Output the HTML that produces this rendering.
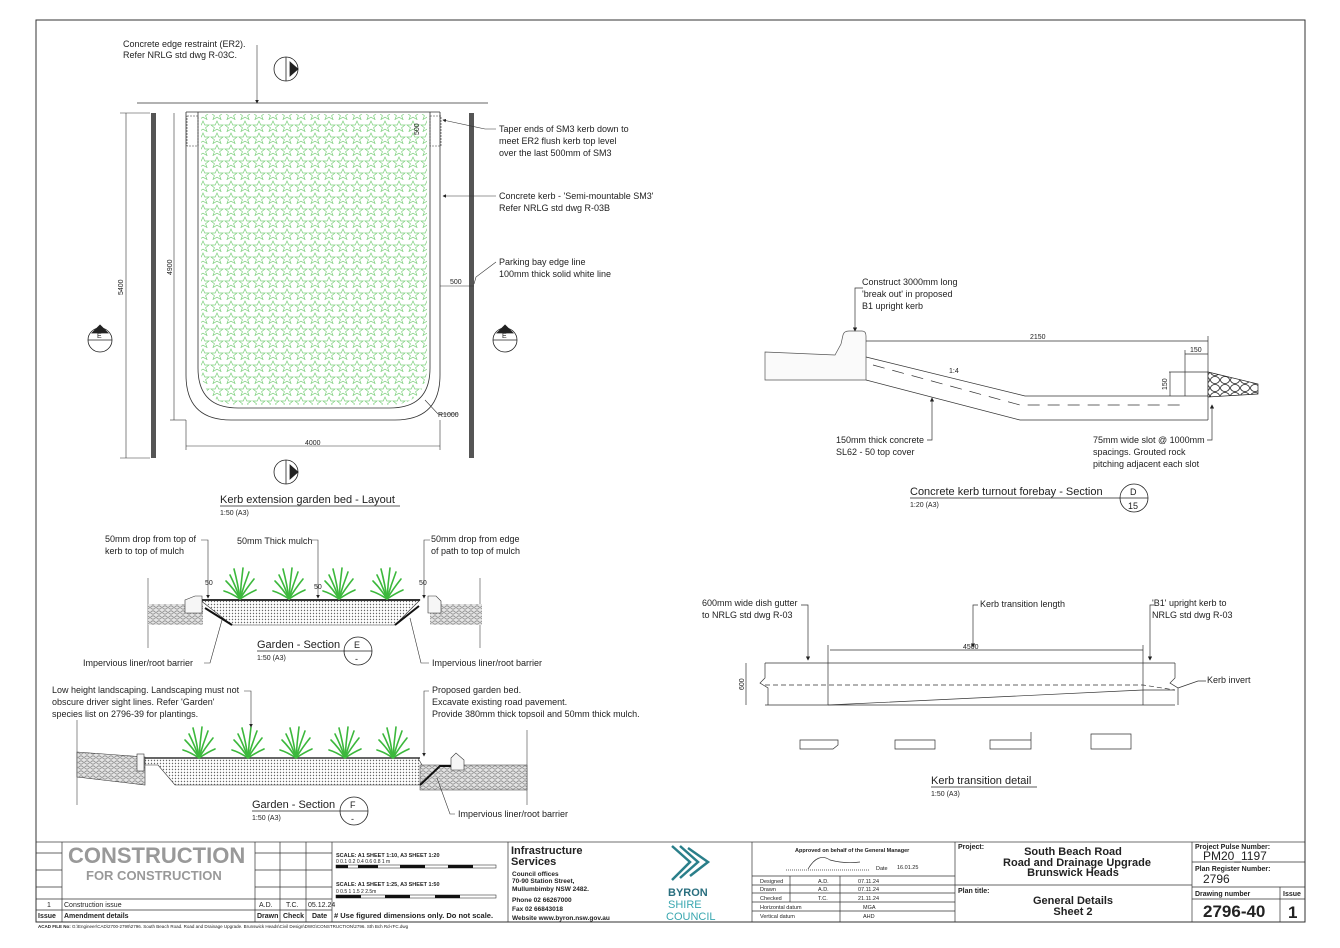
<!DOCTYPE html>
<html><head><meta charset="utf-8"><style>
html,body{margin:0;padding:0;background:#fff}
svg{display:block}
text{font-family:"Liberation Sans",sans-serif;fill:#222}
.t{font-size:9px}
.s{font-size:7px}
.b{font-weight:bold}
</style></head><body>
<svg width="1340" height="948" viewBox="0 0 1340 948" xmlns="http://www.w3.org/2000/svg">
<defs>
<pattern id="star" width="14" height="12" patternUnits="userSpaceOnUse">
<path d="M7 1 L8.8 5 L13 5 L9.6 7.7 L11 11.5 L7 9.2 L3 11.5 L4.4 7.7 L1 5 L5.2 5Z" fill="none" stroke="#7ccf7c" stroke-width="0.7"/>
</pattern>
<pattern id="dots" width="3" height="3" patternUnits="userSpaceOnUse"><rect width="3" height="3" fill="#fff"/><circle cx="1.5" cy="1.5" r="0.7" fill="#666"/></pattern>
<pattern id="pave" width="6" height="5" patternUnits="userSpaceOnUse"><rect width="6" height="5" fill="#e4e4e4"/><ellipse cx="3" cy="2.5" rx="2.3" ry="1.6" fill="none" stroke="#777" stroke-width="0.7"/></pattern>
<pattern id="rock" width="10" height="8" patternUnits="userSpaceOnUse"><rect width="10" height="8" fill="#fff"/><ellipse cx="5" cy="4" rx="4.5" ry="3.5" fill="none" stroke="#222" stroke-width="0.8"/></pattern>
<symbol id="grass" viewBox="-16 -32 32 32" overflow="visible">
<g stroke="#3cb83c" stroke-width="1.6" fill="none" stroke-linecap="round">
<path d="M0 0 Q-2 -15 -6 -30"/><path d="M0 0 Q1 -16 3 -31"/><path d="M0 0 Q-6 -10 -14 -18"/><path d="M0 0 Q6 -10 14 -20"/><path d="M0 0 Q-9 -6 -16 -8"/><path d="M0 0 Q9 -6 16 -9"/><path d="M0 0 Q4 -14 9 -27"/><path d="M0 0 Q-4 -12 -10 -24"/>
</g></symbol>
<marker id="ar" markerWidth="6" markerHeight="6" refX="5" refY="3" orient="auto"><path d="M0 0 L6 3 L0 6Z" fill="#222"/></marker>
</defs>

<rect x="36" y="20" width="1269" height="902" fill="none" stroke="#333" stroke-width="1"/>

<!-- ===== Layout plan ===== -->
<g stroke="#333" fill="none" stroke-width="0.8">
<line x1="137" y1="103" x2="488" y2="103"/>
<line x1="186" y1="112" x2="440" y2="112"/>
<path d="M186 112 V375 Q186 420 231 420 H395 Q440 420 440 375 V112"/>
<path d="M198 112 V368 Q198 408 238 408 H390 Q430 408 430 368 V112"/>
</g>
<path d="M201 114 V366 Q201 405 240 405 H388 Q427 405 427 366 V114Z" fill="url(#star)"/>
<rect x="151" y="113" width="5" height="345" fill="#555"/>
<rect x="469" y="113" width="5" height="345" fill="#555"/>
<g stroke="#333" stroke-width="0.6" fill="none">
<line x1="126" y1="113" x2="126" y2="458"/><line x1="120" y1="113" x2="150" y2="113"/><line x1="120" y1="458" x2="150" y2="458"/>
<line x1="174" y1="113" x2="174" y2="420"/><line x1="170" y1="420" x2="186" y2="420"/>
<line x1="186" y1="446" x2="440" y2="446"/><line x1="186" y1="420" x2="186" y2="450"/><line x1="440" y1="420" x2="440" y2="450"/>
<line x1="440" y1="286" x2="474" y2="286"/>
<line x1="257" y1="45" x2="257" y2="103" marker-end="url(#ar)"/>
<path d="M496 129 H485 V129 L443 120" marker-end="url(#ar)"/>
<path d="M496 196 H443" marker-end="url(#ar)"/>
<path d="M496 262 L476 277 L474 284"/>
<path d="M458 414 H438 L425 400"/>
<rect x="187" y="116" width="11" height="30" stroke-dasharray="2 1"/>
<rect x="430" y="116" width="11" height="30" stroke-dasharray="2 1"/>
</g>
<text class="t" x="123" y="47">Concrete edge restraint (ER2).</text>
<text class="t" x="123" y="58">Refer NRLG std dwg R-03C.</text>
<text class="t" x="499" y="132">Taper ends of SM3 kerb down to</text>
<text class="t" x="499" y="144">meet ER2 flush kerb top level</text>
<text class="t" x="499" y="156">over the last 500mm of SM3</text>
<text class="t" x="499" y="199">Concrete kerb - 'Semi-mountable SM3'</text>
<text class="t" x="499" y="211">Refer NRLG std dwg R-03B</text>
<text class="t" x="499" y="265">Parking bay edge line</text>
<text class="t" x="499" y="277">100mm thick solid white line</text>
<text class="s" x="450" y="284">500</text>
<text class="s" x="438" y="417">R1000</text>
<text class="s" x="305" y="445">4000</text>
<text class="s" transform="translate(123 295) rotate(-90)">5400</text>
<text class="s" transform="translate(172 275) rotate(-90)">4900</text>
<text class="s" transform="translate(419 135) rotate(-90)">500</text>
<g stroke="#222" fill="none" stroke-width="0.8">
<circle cx="286" cy="69" r="12"/><line x1="286" y1="57" x2="286" y2="81"/><path d="M298 69 L290 62 V76Z" fill="#222"/>
<circle cx="286" cy="472" r="12"/><line x1="286" y1="460" x2="286" y2="484"/><path d="M298 472 L290 465 V479Z" fill="#222"/>
<circle cx="100" cy="340" r="12"/><line x1="88" y1="340" x2="112" y2="340"/><path d="M100 325 L92 333 H108Z" fill="#222"/>
<circle cx="505" cy="340" r="12"/><line x1="493" y1="340" x2="517" y2="340"/><path d="M505 325 L497 333 H513Z" fill="#222"/>
</g>
<text class="s" x="97" y="338">E</text><text class="s" x="502" y="338">E</text>
<text x="220" y="503" style="font-size:11px">Kerb extension garden bed - Layout</text>
<line x1="220" y1="506" x2="400" y2="506" stroke="#222" stroke-width="0.7"/>
<text class="s" x="220" y="515">1:50 (A3)</text>

<!-- ===== Section E ===== -->
<line x1="148" y1="578" x2="148" y2="648" stroke="#444" stroke-width="0.6"/>
<line x1="480" y1="578" x2="480" y2="648" stroke="#444" stroke-width="0.6"/>
<rect x="148" y="604" width="55" height="21" fill="url(#pave)"/>
<rect x="430" y="604" width="52" height="21" fill="url(#pave)"/>
<path d="M200 600 H420 L395 625 H232Z" fill="url(#dots)" stroke="#333" stroke-width="0.6"/>
<line x1="200" y1="600" x2="420" y2="600" stroke="#333" stroke-width="2"/>
<path d="M205 608 L232 625 M419 606 L395 625" stroke="#111" stroke-width="2"/>
<path d="M185 600 L195 596 H202 V613 H185Z" fill="#f6f6f6" stroke="#333" stroke-width="0.6"/>
<path d="M428 596 H436 L441 601 V613 H428Z" fill="#f6f6f6" stroke="#333" stroke-width="0.6"/>
<use href="#grass" x="224" y="567" width="32" height="32"/>
<use href="#grass" x="273" y="567" width="32" height="32"/>
<use href="#grass" x="323" y="567" width="32" height="32"/>
<use href="#grass" x="371" y="567" width="32" height="32"/>
<g stroke="#333" stroke-width="0.6" fill="none">
<path d="M201 540 H208 V598" marker-end="url(#ar)"/>
<path d="M312 540 H318 V598" marker-end="url(#ar)"/>
<path d="M430 540 H424 V598" marker-end="url(#ar)"/>
<path d="M204 663 H210 L222 620"/>
<path d="M429 663 L421 663 L410 618"/>
</g>
<text class="t" x="105" y="542">50mm drop from top of</text>
<text class="t" x="105" y="554">kerb to top of mulch</text>
<text class="t" x="237" y="544">50mm Thick mulch</text>
<text class="t" x="431" y="542">50mm drop from edge</text>
<text class="t" x="431" y="554">of path to top of mulch</text>
<text class="s" x="205" y="585">50</text><text class="s" x="314" y="589">50</text><text class="s" x="419" y="585">50</text>
<text class="t" x="83" y="666">Impervious liner/root barrier</text>
<text class="t" x="432" y="666">Impervious liner/root barrier</text>
<text x="257" y="648" style="font-size:11px">Garden - Section</text>
<line x1="257" y1="651" x2="345" y2="651" stroke="#222" stroke-width="0.7"/>
<text class="s" x="257" y="660">1:50 (A3)</text>
<circle cx="358" cy="651" r="14" fill="none" stroke="#222" stroke-width="0.8"/><line x1="344" y1="651" x2="372" y2="651" stroke="#222" stroke-width="0.7"/>
<text class="t" x="354" y="648">E</text><text class="t" x="355" y="662">-</text>

<!-- ===== Section F ===== -->
<line x1="77" y1="720" x2="77" y2="805" stroke="#444" stroke-width="0.6"/>
<line x1="527" y1="730" x2="527" y2="805" stroke="#444" stroke-width="0.6"/>
<path d="M77 752 L145 757 V785 L77 777Z" fill="url(#pave)" stroke="#333" stroke-width="0.6"/>
<path d="M145 758 H418 L422 765 V785 H175 L158 765 H145Z" fill="url(#dots)" stroke="#333" stroke-width="0.6"/>
<line x1="145" y1="758" x2="420" y2="758" stroke="#333" stroke-width="1.5"/>
<rect x="420" y="765" width="107" height="25" fill="url(#pave)" stroke="#333" stroke-width="0.5"/>
<path d="M420 785 L440 766 H452" stroke="#111" stroke-width="2" fill="none"/>
<rect x="137" y="754" width="7" height="17" fill="#f6f6f6" stroke="#333" stroke-width="0.6"/>
<path d="M451 758 L456 753 L464 760 V770 H451Z" fill="#f6f6f6" stroke="#333" stroke-width="0.6"/>
<use href="#grass" x="183" y="726" width="32" height="32"/>
<use href="#grass" x="232" y="726" width="32" height="32"/>
<use href="#grass" x="280" y="726" width="32" height="32"/>
<use href="#grass" x="329" y="726" width="32" height="32"/>
<use href="#grass" x="377" y="726" width="32" height="32"/>
<g stroke="#333" stroke-width="0.6" fill="none">
<path d="M244 691 H251 V727" marker-end="url(#ar)"/>
<path d="M429 691 H424 V756" marker-end="url(#ar)"/>
<path d="M455 814 H450 L437 778"/>
</g>
<text class="t" x="52" y="693">Low height landscaping. Landscaping must not</text>
<text class="t" x="52" y="705">obscure driver sight lines. Refer 'Garden'</text>
<text class="t" x="52" y="717">species list on 2796-39 for plantings.</text>
<text class="t" x="432" y="693">Proposed garden bed.</text>
<text class="t" x="432" y="705">Excavate existing road pavement.</text>
<text class="t" x="432" y="717">Provide 380mm thick topsoil and 50mm thick mulch.</text>
<text class="t" x="458" y="817">Impervious liner/root barrier</text>
<text x="252" y="808" style="font-size:11px">Garden - Section</text>
<line x1="252" y1="811" x2="340" y2="811" stroke="#222" stroke-width="0.7"/>
<text class="s" x="252" y="820">1:50 (A3)</text>
<circle cx="354" cy="811" r="14" fill="none" stroke="#222" stroke-width="0.8"/><line x1="340" y1="811" x2="368" y2="811" stroke="#222" stroke-width="0.7"/>
<text class="t" x="350" y="808">F</text><text class="t" x="351" y="822">-</text>

<!-- ===== Forebay section D ===== -->
<path d="M765 352 L835 355 L841 344 L843 335 Q844 331 849 331 H862 Q866 331 866 336 V380 H765Z" fill="#fafafa" stroke="#555" stroke-width="0.7"/>
<g stroke="#333" stroke-width="0.7" fill="none">
<path d="M866 357 L1025 396 H1208"/>
<path d="M866 380 L1020 420 H1208"/>
<path d="M873 365 L1020 405 H1185" stroke-dasharray="12 8"/>
<line x1="866" y1="341" x2="1208" y2="341"/>
<line x1="1208" y1="336" x2="1208" y2="420"/>
<line x1="1185" y1="354" x2="1208" y2="354"/><line x1="1185" y1="350" x2="1185" y2="396"/>
<line x1="1169" y1="372" x2="1208" y2="372"/><line x1="1170" y1="372" x2="1170" y2="396"/>
<path d="M863 288 H855 V331" marker-end="url(#ar)"/>
<path d="M927 440 H932 V398" marker-end="url(#ar)"/>
<path d="M1207 440 H1212 V405" marker-end="url(#ar)"/>
</g>
<path d="M1208 372 L1258 384 V394 L1208 397Z" fill="url(#rock)" stroke="#222" stroke-width="0.7"/>
<text class="s" x="1030" y="339">2150</text>
<text class="s" x="1190" y="352">150</text>
<text class="s" transform="translate(1167 390) rotate(-90)">150</text>
<text class="s" x="949" y="373">1:4</text>
<text class="t" x="862" y="285">Construct 3000mm long</text>
<text class="t" x="862" y="297">'break out' in proposed</text>
<text class="t" x="862" y="309">B1 upright kerb</text>
<text class="t" x="836" y="443">150mm thick concrete</text>
<text class="t" x="836" y="455">SL62 - 50 top cover</text>
<text class="t" x="1093" y="443">75mm wide slot @ 1000mm</text>
<text class="t" x="1093" y="455">spacings. Grouted rock</text>
<text class="t" x="1093" y="467">pitching adjacent each slot</text>
<text x="910" y="495" style="font-size:11px">Concrete kerb turnout forebay - Section</text>
<line x1="910" y1="498" x2="1120" y2="498" stroke="#222" stroke-width="0.7"/>
<text class="s" x="910" y="507">1:20 (A3)</text>
<circle cx="1134" cy="498" r="14" fill="none" stroke="#222" stroke-width="0.8"/><line x1="1120" y1="498" x2="1148" y2="498" stroke="#222" stroke-width="0.7"/>
<text class="t" x="1130" y="495">D</text><text class="t" x="1128" y="509">15</text>

<!-- ===== Kerb transition ===== -->
<g stroke="#333" stroke-width="0.7" fill="none">
<line x1="765" y1="663" x2="1175" y2="663"/>
<line x1="765" y1="705" x2="1175" y2="705"/>
<line x1="830" y1="650" x2="1143" y2="650"/>
<line x1="828" y1="645" x2="828" y2="705"/><line x1="1143" y1="645" x2="1143" y2="705"/>
<path d="M828 705 L1143 690 H1175"/>
<path d="M765 685 H1143 L1175 690" stroke-dasharray="5 3"/>
<line x1="746" y1="663" x2="746" y2="705"/>
<path d="M765 663 V678 L760 683 L768 688 V705"/>
<path d="M1175 663 V678 L1170 683 L1178 688 V705"/>
<path d="M801 605 H808 V660" marker-end="url(#ar)"/>
<path d="M978 605 H973 V647" marker-end="url(#ar)"/>
<path d="M1154 605 H1150 V660" marker-end="url(#ar)"/>
<path d="M1206 681 H1198 L1178 688"/>
<path d="M800 740 H838 V745 L833 749 H800Z"/>
<path d="M895 740 H935 V749 H895Z"/>
<path d="M990 740 H1031 V732 V749 H990Z"/>
<path d="M1091 734 H1131 V749 H1091Z"/>
</g>
<text class="s" x="963" y="649">4500</text>
<text class="s" transform="translate(744 690) rotate(-90)">600</text>
<text class="t" x="702" y="606">600mm wide dish gutter</text>
<text class="t" x="702" y="618">to NRLG std dwg R-03</text>
<text class="t" x="980" y="607">Kerb transition length</text>
<text class="t" x="1152" y="606">'B1' upright kerb to</text>
<text class="t" x="1152" y="618">NRLG std dwg R-03</text>
<text class="t" x="1207" y="683">Kerb invert</text>
<text x="931" y="784" style="font-size:11px">Kerb transition detail</text>
<line x1="931" y1="787" x2="1037" y2="787" stroke="#222" stroke-width="0.7"/>
<text class="s" x="931" y="796">1:50 (A3)</text>

<!-- ===== Title block ===== -->
<g stroke="#333" stroke-width="0.7" fill="none">
<rect x="36" y="842" width="1269" height="80"/>
<line x1="62" y1="842" x2="62" y2="922"/>
<line x1="255" y1="842" x2="255" y2="922"/><line x1="280" y1="842" x2="280" y2="922"/>
<line x1="306" y1="842" x2="306" y2="922"/><line x1="332" y1="842" x2="332" y2="922"/>
<line x1="508" y1="842" x2="508" y2="922"/>
<line x1="752" y1="842" x2="752" y2="922"/><line x1="955" y1="842" x2="955" y2="922"/>
<line x1="1192" y1="842" x2="1192" y2="922"/><line x1="1280" y1="887" x2="1280" y2="922"/>
<line x1="36" y1="853" x2="62" y2="853"/><line x1="36" y1="870" x2="62" y2="870"/><line x1="36" y1="887" x2="62" y2="887"/>
<line x1="255" y1="853" x2="332" y2="853"/><line x1="255" y1="870" x2="332" y2="870"/><line x1="255" y1="887" x2="332" y2="887"/>
<line x1="36" y1="899" x2="332" y2="899"/><line x1="36" y1="910" x2="332" y2="910"/>
<line x1="752" y1="876" x2="955" y2="876"/><line x1="752" y1="885" x2="955" y2="885"/><line x1="752" y1="893" x2="955" y2="893"/><line x1="752" y1="902" x2="955" y2="902"/><line x1="752" y1="911" x2="955" y2="911"/>
<line x1="790" y1="876" x2="790" y2="902"/><line x1="840" y1="876" x2="840" y2="922"/>
<line x1="955" y1="885" x2="1192" y2="885"/>
<line x1="1192" y1="862" x2="1305" y2="862"/><line x1="1192" y1="887" x2="1305" y2="887"/><line x1="1192" y1="899" x2="1305" y2="899"/>
<path d="M808 869 Q818 852 830 860 Q845 864 860 862"/>
<line x1="786" y1="870" x2="870" y2="870" stroke-dasharray="1 1"/>
</g>
<text x="68" y="863" style="font-size:22px;font-weight:bold;fill:#999">CONSTRUCTION</text>
<text x="86" y="880" style="font-size:13px;font-weight:bold;fill:#999">FOR CONSTRUCTION</text>
<text class="s" x="47" y="907">1</text><text class="s" x="64" y="907">Construction issue</text>
<text class="s" x="259" y="907">A.D.</text><text class="s" x="286" y="907">T.C.</text><text class="s" x="308" y="907">05.12.24</text>
<text class="s b" x="38" y="918">Issue</text><text class="s b" x="64" y="918">Amendment details</text>
<text class="s b" x="257" y="918">Drawn</text><text class="s b" x="283" y="918">Check</text><text class="s b" x="312" y="918">Date</text>
<text class="b" x="334" y="918" style="font-size:7.5px"># Use figured dimensions only. Do not scale.</text>
<text class="b" x="336" y="857" style="font-size:5.5px">SCALE: A1 SHEET 1:10, A3 SHEET 1:20</text>
<text class="b" x="336" y="886" style="font-size:5.5px">SCALE: A1 SHEET 1:25, A3 SHEET 1:50</text>
<g fill="#111"><rect x="336" y="865" width="12" height="3"/><rect x="358" y="865" width="20" height="3"/><rect x="400" y="865" width="25" height="3"/><rect x="448" y="865" width="25" height="3"/>
<rect x="336" y="895" width="25" height="3"/><rect x="385" y="895" width="25" height="3"/><rect x="435" y="895" width="25" height="3"/></g>
<rect x="336" y="865" width="160" height="3" fill="none" stroke="#111" stroke-width="0.5"/>
<rect x="336" y="895" width="160" height="3" fill="none" stroke="#111" stroke-width="0.5"/>
<text style="font-size:5px" x="336" y="863">0   0.1  0.2       0.4       0.6       0.8        1 m</text>
<text style="font-size:5px" x="336" y="893">0        0.5        1        1.5        2        2.5m</text>
<text class="b" x="511" y="854" style="font-size:11px">Infrastructure</text>
<text class="b" x="511" y="865" style="font-size:11px">Services</text>
<text class="b" x="512" y="876" style="font-size:6.5px">Council offices</text>
<text class="b" x="512" y="883" style="font-size:6.5px">70-90 Station Street,</text>
<text class="b" x="512" y="891" style="font-size:6.5px">Mullumbimby  NSW 2482.</text>
<text class="b" x="512" y="902" style="font-size:6.5px">Phone     02 66267000</text>
<text class="b" x="512" y="911" style="font-size:6.5px">Fax         02 66843018</text>
<text class="b" x="512" y="920" style="font-size:6.5px">Website    www.byron.nsw.gov.au</text>
<g stroke="#2a7f8a" stroke-width="2.5" fill="none"><path d="M672 846 L690 862 L672 880"/><path d="M680 846 L698 862 L680 878"/><path d="M688 848 L708 862 L690 876"/></g>
<text x="668" y="896" style="font-size:11px;font-weight:bold;fill:#2a6f7f">BYRON</text>
<text x="668" y="908" style="font-size:11px;fill:#3aa7b0">SHIRE</text>
<text x="666" y="920" style="font-size:11px;fill:#3aa7b0">COUNCIL</text>
<text class="b" x="795" y="852" style="font-size:5.5px">Approved on behalf of the General Manager</text>
<text style="font-size:5.5px" x="876" y="870">Date</text><text style="font-size:5.5px" x="897" y="869">16.01.25</text>
<text style="font-size:5.5px" x="760" y="883">Designed</text><text style="font-size:5.5px" x="818" y="883">A.D.</text><text style="font-size:5.5px" x="858" y="883">07.11.24</text>
<text style="font-size:5.5px" x="760" y="891">Drawn</text><text style="font-size:5.5px" x="818" y="891">A.D.</text><text style="font-size:5.5px" x="858" y="891">07.11.24</text>
<text style="font-size:5.5px" x="760" y="900">Checked</text><text style="font-size:5.5px" x="818" y="900">T.C.</text><text style="font-size:5.5px" x="858" y="900">21.11.24</text>
<text style="font-size:5.5px" x="760" y="909">Horizontal datum</text><text style="font-size:5.5px" x="863" y="909">MGA</text>
<text style="font-size:5.5px" x="760" y="918">Vertical datum</text><text style="font-size:5.5px" x="863" y="918">AHD</text>
<text class="b" x="958" y="849" style="font-size:7px">Project:</text>
<text class="b" x="1073" y="855" style="font-size:11px" text-anchor="middle">South Beach Road</text>
<text class="b" x="1077" y="866" style="font-size:11px" text-anchor="middle">Road and Drainage Upgrade</text>
<text class="b" x="1073" y="876" style="font-size:11px" text-anchor="middle">Brunswick Heads</text>
<text class="b" x="958" y="893" style="font-size:7px">Plan title:</text>
<text class="b" x="1073" y="904" style="font-size:11px" text-anchor="middle">General Details</text>
<text class="b" x="1073" y="915" style="font-size:11px" text-anchor="middle">Sheet 2</text>
<text class="b" x="1195" y="849" style="font-size:7px">Project Pulse Number:</text>
<text x="1203" y="860" style="font-size:12px">PM20_1197</text>
<text class="b" x="1195" y="871" style="font-size:7px">Plan Register Number:</text>
<text x="1203" y="883" style="font-size:12px">2796</text>
<text class="b" x="1195" y="896" style="font-size:7px">Drawing number</text>
<text class="b" x="1283" y="896" style="font-size:7px">Issue</text>
<text class="b" x="1203" y="917" style="font-size:17px">2796-40</text>
<text class="b" x="1288" y="918" style="font-size:17px">1</text>
<text style="font-size:4.5px" x="38" y="928"><tspan font-weight="bold">ACAD FILE No:</tspan>  G:\Engineer\CAD\2700-2799\2796. South Beach Road. Road and Drainage Upgrade. Brunswick Heads\Civil Design\DWG\CONSTRUCTION\2796. Sth Bch Rd-rFC.dwg</text>
</svg>
</body></html>
